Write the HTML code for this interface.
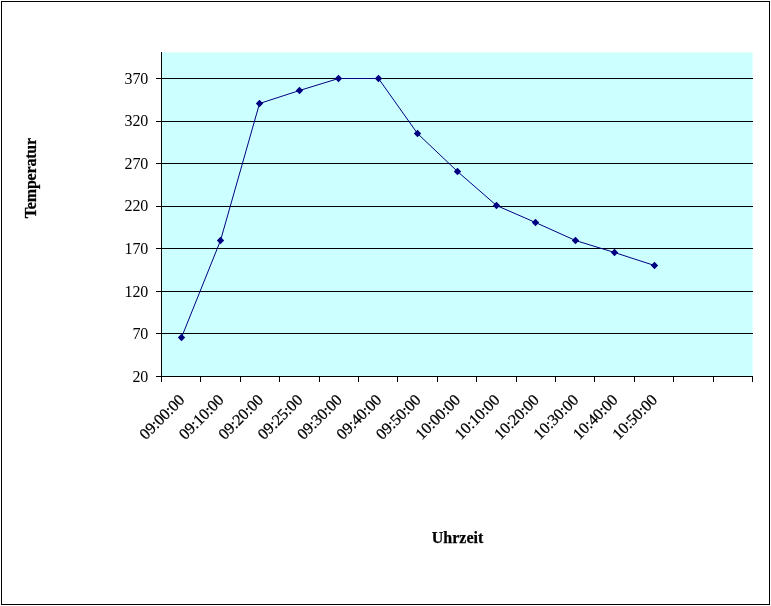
<!DOCTYPE html>
<html lang="de"><head><meta charset="utf-8"><title>Temperatur / Uhrzeit</title>
<style>
html,body{margin:0;padding:0;background:#fff;}
body{width:771px;height:606px;overflow:hidden;font-family:"Liberation Serif",serif;}
svg{display:block;}
text{font-family:"Liberation Serif",serif;fill:#000;}
.ax{font-size:16px;}
.xl{letter-spacing:-0.15px;stroke:#000;stroke-width:0.25px;}
.yl{letter-spacing:-0.2px;}
.tt{font-size:16px;font-weight:bold;stroke:#000;stroke-width:0.25px;}
</style></head><body>
<svg width="771" height="606" viewBox="0 0 771 606">
<rect x="0" y="0" width="771" height="606" fill="#fff"/>
<rect x="1.5" y="1.5" width="768" height="603" fill="#fff" stroke="#000" stroke-width="1"/>
<rect x="161.5" y="52.5" width="591.10" height="324.0" fill="#ccffff"/>
<g stroke="#000" stroke-width="1" shape-rendering="crispEdges">
<line x1="161.5" y1="333.5" x2="753.0" y2="333.5"/>
<line x1="161.5" y1="291.5" x2="753.0" y2="291.5"/>
<line x1="161.5" y1="248.5" x2="753.0" y2="248.5"/>
<line x1="161.5" y1="206.5" x2="753.0" y2="206.5"/>
<line x1="161.5" y1="163.5" x2="753.0" y2="163.5"/>
<line x1="161.5" y1="121.5" x2="753.0" y2="121.5"/>
<line x1="161.5" y1="78.5" x2="753.0" y2="78.5"/>
<line x1="161.5" y1="52.0" x2="161.5" y2="377.0"/>
<line x1="156.0" y1="376.5" x2="753.0" y2="376.5"/>
<line x1="156.0" y1="333.5" x2="161.5" y2="333.5"/>
<line x1="156.0" y1="291.5" x2="161.5" y2="291.5"/>
<line x1="156.0" y1="248.5" x2="161.5" y2="248.5"/>
<line x1="156.0" y1="206.5" x2="161.5" y2="206.5"/>
<line x1="156.0" y1="163.5" x2="161.5" y2="163.5"/>
<line x1="156.0" y1="121.5" x2="161.5" y2="121.5"/>
<line x1="156.0" y1="78.5" x2="161.5" y2="78.5"/>
<line x1="161.5" y1="376.5" x2="161.5" y2="382.0"/>
<line x1="200.5" y1="376.5" x2="200.5" y2="382.0"/>
<line x1="240.5" y1="376.5" x2="240.5" y2="382.0"/>
<line x1="279.5" y1="376.5" x2="279.5" y2="382.0"/>
<line x1="319.5" y1="376.5" x2="319.5" y2="382.0"/>
<line x1="358.5" y1="376.5" x2="358.5" y2="382.0"/>
<line x1="397.5" y1="376.5" x2="397.5" y2="382.0"/>
<line x1="437.5" y1="376.5" x2="437.5" y2="382.0"/>
<line x1="476.5" y1="376.5" x2="476.5" y2="382.0"/>
<line x1="516.5" y1="376.5" x2="516.5" y2="382.0"/>
<line x1="555.5" y1="376.5" x2="555.5" y2="382.0"/>
<line x1="594.5" y1="376.5" x2="594.5" y2="382.0"/>
<line x1="634.5" y1="376.5" x2="634.5" y2="382.0"/>
<line x1="673.5" y1="376.5" x2="673.5" y2="382.0"/>
<line x1="713.5" y1="376.5" x2="713.5" y2="382.0"/>
<line x1="752.5" y1="376.5" x2="752.5" y2="382.0"/>
</g>
<text class="ax yl" x="148" y="381.7" text-anchor="end">20</text>
<text class="ax yl" x="148" y="339.1" text-anchor="end">70</text>
<text class="ax yl" x="148" y="296.6" text-anchor="end">120</text>
<text class="ax yl" x="148" y="254.0" text-anchor="end">170</text>
<text class="ax yl" x="148" y="211.4" text-anchor="end">220</text>
<text class="ax yl" x="148" y="168.8" text-anchor="end">270</text>
<text class="ax yl" x="148" y="126.3" text-anchor="end">320</text>
<text class="ax yl" x="148" y="83.7" text-anchor="end">370</text>
<polyline fill="none" stroke="#000080" stroke-width="1" points="181.5,337.5 220.5,240.5 259.5,103.5 299.5,90.5 338.5,78.5 378.5,78.5 417.5,133.5 457.5,171.5 496.5,205.5 535.5,222.5 575.5,240.5 614.5,252.5 654.5,265.5"/>
<g fill="#000080">
<path d="M181.5 333.8L185.2 337.5L181.5 341.2L177.8 337.5Z"/>
<path d="M220.5 236.8L224.2 240.5L220.5 244.2L216.8 240.5Z"/>
<path d="M259.5 99.8L263.2 103.5L259.5 107.2L255.8 103.5Z"/>
<path d="M299.5 86.8L303.2 90.5L299.5 94.2L295.8 90.5Z"/>
<path d="M338.5 74.8L342.2 78.5L338.5 82.2L334.8 78.5Z"/>
<path d="M378.5 74.8L382.2 78.5L378.5 82.2L374.8 78.5Z"/>
<path d="M417.5 129.8L421.2 133.5L417.5 137.2L413.8 133.5Z"/>
<path d="M457.5 167.8L461.2 171.5L457.5 175.2L453.8 171.5Z"/>
<path d="M496.5 201.8L500.2 205.5L496.5 209.2L492.8 205.5Z"/>
<path d="M535.5 218.8L539.2 222.5L535.5 226.2L531.8 222.5Z"/>
<path d="M575.5 236.8L579.2 240.5L575.5 244.2L571.8 240.5Z"/>
<path d="M614.5 248.8L618.2 252.5L614.5 256.2L610.8 252.5Z"/>
<path d="M654.5 261.8L658.2 265.5L654.5 269.2L650.8 265.5Z"/>
</g>
<text class="ax xl" text-anchor="end" transform="translate(181.7 397.5) rotate(-45)" x="0" y="5">09:00:00</text>
<text class="ax xl" text-anchor="end" transform="translate(221.1 397.5) rotate(-45)" x="0" y="5">09:10:00</text>
<text class="ax xl" text-anchor="end" transform="translate(260.5 397.5) rotate(-45)" x="0" y="5">09:20:00</text>
<text class="ax xl" text-anchor="end" transform="translate(299.9 397.5) rotate(-45)" x="0" y="5">09:25:00</text>
<text class="ax xl" text-anchor="end" transform="translate(339.3 397.5) rotate(-45)" x="0" y="5">09:30:00</text>
<text class="ax xl" text-anchor="end" transform="translate(378.7 397.5) rotate(-45)" x="0" y="5">09:40:00</text>
<text class="ax xl" text-anchor="end" transform="translate(418.1 397.5) rotate(-45)" x="0" y="5">09:50:00</text>
<text class="ax xl" text-anchor="end" transform="translate(457.5 397.5) rotate(-45)" x="0" y="5">10:00:00</text>
<text class="ax xl" text-anchor="end" transform="translate(496.9 397.5) rotate(-45)" x="0" y="5">10:10:00</text>
<text class="ax xl" text-anchor="end" transform="translate(536.3 397.5) rotate(-45)" x="0" y="5">10:20:00</text>
<text class="ax xl" text-anchor="end" transform="translate(575.7 397.5) rotate(-45)" x="0" y="5">10:30:00</text>
<text class="ax xl" text-anchor="end" transform="translate(615.1 397.5) rotate(-45)" x="0" y="5">10:40:00</text>
<text class="ax xl" text-anchor="end" transform="translate(654.5 397.5) rotate(-45)" x="0" y="5">10:50:00</text>
<text class="tt" style="letter-spacing:-0.2px" text-anchor="middle" transform="translate(36 178.1) rotate(-90)" x="0" y="0">Temperatur</text>
<text class="tt" text-anchor="middle" x="457.5" y="543.3">Uhrzeit</text>
</svg>
</body></html>
